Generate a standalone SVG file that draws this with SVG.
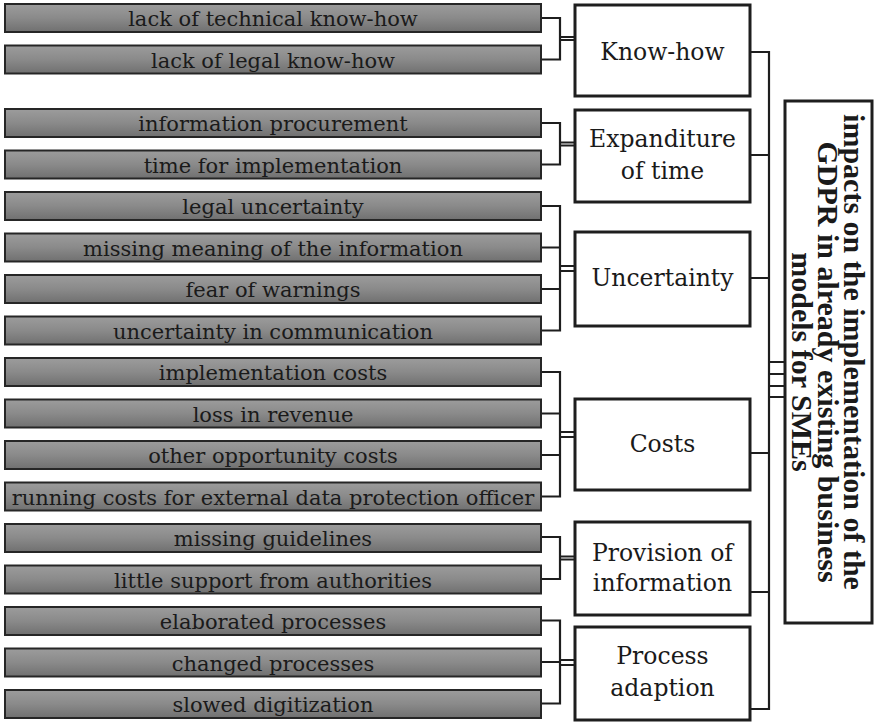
<svg xmlns="http://www.w3.org/2000/svg" width="874" height="722" viewBox="0 0 874 722">
  <defs>
    <linearGradient id="barFill" x1="0" y1="0" x2="0" y2="1">
      <stop offset="0" stop-color="#9c9c9c"/>
      <stop offset="0.5" stop-color="#8a8a8a"/>
      <stop offset="1" stop-color="#707070"/>
    </linearGradient>
    <style>
      .bar rect { fill: url(#barFill); stroke: #262626; stroke-width: 2; }
      .bar text { font-family: "DejaVu Serif", serif; font-size: 21px; fill: #1a1a1a; text-anchor: middle; }
      .cat rect { fill: #ffffff; stroke: #1e1e1e; stroke-width: 3; }
      .cat text { font-family: "DejaVu Serif", serif; font-size: 23.5px; fill: #1a1a1a; text-anchor: middle; }
      .root rect { fill: #ffffff; stroke: #1e1e1e; stroke-width: 3; }
      .root text { font-family: "Liberation Serif", "DejaVu Serif", serif; font-size: 30px; font-weight: bold; fill: #1a1a1a; text-anchor: middle; }
      .wire { fill: none; stroke: #1e1e1e; stroke-width: 2.2; }
    </style>
  </defs>
  <rect width="874" height="722" fill="#ffffff"/>

  <!-- connectors -->
  <g id="connectors" class="wire">
    <!-- Know-how -->
    <path d="M541 18 H560 M541 59.5 H560 M560 17 V60.5 M560 37 H575 M560 40 H575"/>
    <!-- Expanditure of time -->
    <path d="M541 123 H560 M541 164.5 H560 M560 122 V165.5 M560 142.5 H575 M560 145.5 H575"/>
    <!-- Uncertainty -->
    <path d="M541 206 H560 M541 247.5 H560 M541 289 H560 M541 330.5 H560 M560 205 V331.5 M560 266 H575 M560 271 H575"/>
    <!-- Costs -->
    <path d="M541 372 H560 M541 413.5 H560 M541 455 H560 M541 496.5 H560 M560 371 V497.5 M560 432 H575 M560 437 H575"/>
    <!-- Provision of information -->
    <path d="M541 537 H560 M541 579 H560 M560 536 V580 M560 556.5 H575 M560 559.5 H575"/>
    <!-- Process adaption -->
    <path d="M541 620.5 H560 M541 662 H560 M541 703.5 H560 M560 619.5 V704.5 M560 660 H575 M560 665 H575"/>
    <!-- categories to root -->
    <path d="M750 52 H769 M750 155 H769 M750 278 H769 M750 453 H769 M750 592 H769 M750 709 H769 M769 51 V710"/>
    <path d="M769 362 H785 M769 374 H785 M769 386 H785 M769 397 H785"/>
  </g>

  <!-- detail bars -->
  <g id="bar-technical-know-how" class="bar"><rect x="5" y="4" width="536" height="28"/><text x="273" y="26">lack of technical know-how</text></g>
  <g id="bar-legal-know-how" class="bar"><rect x="5" y="45.5" width="536" height="28"/><text x="273" y="67.5">lack of legal know-how</text></g>
  <g id="bar-information-procurement" class="bar"><rect x="5" y="109" width="536" height="28"/><text x="273" y="131">information procurement</text></g>
  <g id="bar-time-implementation" class="bar"><rect x="5" y="150.5" width="536" height="28"/><text x="273" y="172.5">time for implementation</text></g>
  <g id="bar-legal-uncertainty" class="bar"><rect x="5" y="192" width="536" height="28"/><text x="273" y="214">legal uncertainty</text></g>
  <g id="bar-missing-meaning" class="bar"><rect x="5" y="233.5" width="536" height="28"/><text x="273" y="255.5">missing meaning of the information</text></g>
  <g id="bar-fear-warnings" class="bar"><rect x="5" y="275" width="536" height="28"/><text x="273" y="297">fear of warnings</text></g>
  <g id="bar-uncertainty-communication" class="bar"><rect x="5" y="316.5" width="536" height="28"/><text x="273" y="338.5">uncertainty in communication</text></g>
  <g id="bar-implementation-costs" class="bar"><rect x="5" y="358" width="536" height="28"/><text x="273" y="380">implementation costs</text></g>
  <g id="bar-loss-revenue" class="bar"><rect x="5" y="399.5" width="536" height="28"/><text x="273" y="421.5">loss in revenue</text></g>
  <g id="bar-opportunity-costs" class="bar"><rect x="5" y="441" width="536" height="28"/><text x="273" y="463">other opportunity costs</text></g>
  <g id="bar-running-costs" class="bar"><rect x="5" y="482.5" width="536" height="28"/><text x="273" y="504.5">running costs for external data protection officer</text></g>
  <g id="bar-missing-guidelines" class="bar"><rect x="5" y="524" width="536" height="28"/><text x="273" y="546">missing guidelines</text></g>
  <g id="bar-little-support" class="bar"><rect x="5" y="565.5" width="536" height="28"/><text x="273" y="587.5">little support from authorities</text></g>
  <g id="bar-elaborated-processes" class="bar"><rect x="5" y="607" width="536" height="28"/><text x="273" y="629">elaborated processes</text></g>
  <g id="bar-changed-processes" class="bar"><rect x="5" y="648.5" width="536" height="28"/><text x="273" y="670.5">changed processes</text></g>
  <g id="bar-slowed-digitization" class="bar"><rect x="5" y="690" width="536" height="28"/><text x="273" y="712">slowed digitization</text></g>

  <!-- category boxes -->
  <g id="cat-know-how" class="cat"><rect x="575" y="5" width="175" height="91"/><text x="662.5" y="60">Know-how</text></g>
  <g id="cat-expanditure" class="cat"><rect x="575" y="110" width="175" height="92"/><text x="662.5" y="147">Expanditure</text><text x="662.5" y="179">of time</text></g>
  <g id="cat-uncertainty" class="cat"><rect x="575" y="232" width="175" height="94"/><text x="662.5" y="286">Uncertainty</text></g>
  <g id="cat-costs" class="cat"><rect x="575" y="399" width="175" height="91"/><text x="662.5" y="452">Costs</text></g>
  <g id="cat-provision" class="cat"><rect x="575" y="522" width="175" height="93"/><text x="662.5" y="561">Provision of</text><text x="662.5" y="591">information</text></g>
  <g id="cat-process" class="cat"><rect x="575" y="627" width="175" height="93"/><text x="662.5" y="664">Process</text><text x="662.5" y="696">adaption</text></g>

  <!-- root box with rotated title -->
  <g id="root" class="root">
    <rect x="785" y="101" width="87" height="522"/>
    <text transform="translate(844 352) rotate(90)" x="0" y="0">impacts on the implementation of the</text>
    <text transform="translate(818 362) rotate(90)" x="0" y="0">GDPR in already existing business</text>
    <text transform="translate(792 362) rotate(90)" x="0" y="0">models for SMEs</text>
  </g>
</svg>
